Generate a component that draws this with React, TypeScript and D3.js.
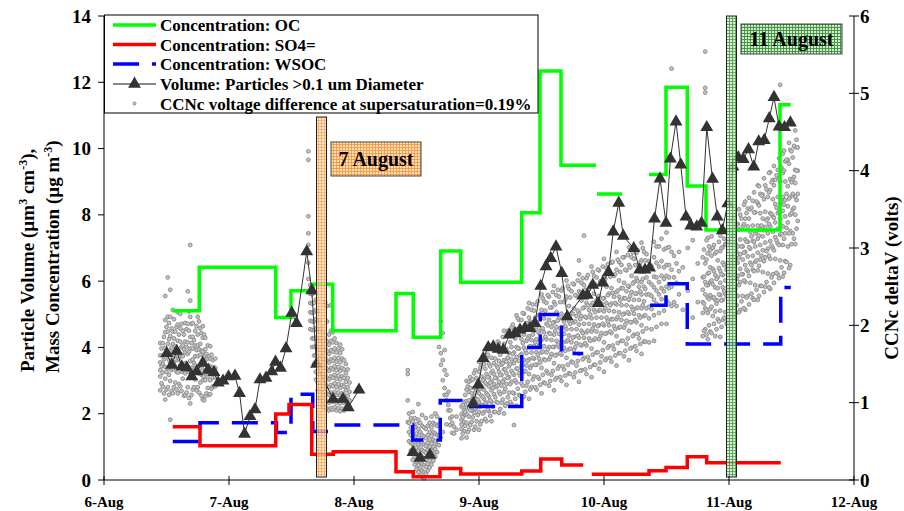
import React from "react";
import * as d3 from "d3";

// ---------- DATA ----------
// Step series: value[i] holds from time[i] to time[i+1]; null = no data
const ocTimes = [6.55, 6.762, 7.374, 7.496, 7.67, 7.83, 8.336, 8.474, 8.694, 8.854, 9.342, 9.488, 9.656, 9.936, 9.944, 10.144, 10.36, 10.496, 10.666, 10.816, 11.408, 11.494];
const ocValues: (number | null)[] = [5.11, 6.42, 4.9, 5.71, 5.91, 4.5, 5.63, 4.31, 6.91, 5.97, 8.06, 12.34, 9.5, null, 8.63, null, 9.22, 11.85, 8.87, 7.54, 11.32];

const so4Times = [6.55, 6.768, 7.374, 7.48, 7.662, 7.834, 8.336, 8.474, 8.688, 8.854, 9.342, 9.494, 9.662, 9.834, 9.902, 10.36, 10.496, 10.666, 10.822, 11.414];
const so4Values: (number | null)[] = [1.61, 1.03, 1.99, 2.28, 0.78, 0.85, 0.25, 0.1, 0.35, 0.18, 0.27, 0.63, 0.45, null, 0.17, 0.28, 0.38, 0.7, 0.52];

const wsocTimes = [6.55, 6.768, 7.38, 7.496, 7.67, 7.834, 8.47, 8.69, 8.854, 9.342, 9.49, 9.66, 9.834, 10.368, 10.496, 10.666, 11.414, 11.494];
const wsocValues: (number | null)[] = [1.16, 1.73, 1.43, 2.59, 1.46, 1.66, 1.21, 2.4, 2.22, 4.0, 4.99, 3.82, null, 5.27, 5.92, 4.1, 5.81];

// Volume (>0.1 um) — null marks a break in the line
const volDays: number[] = [
  6.502, 6.542, 6.582, 6.622, 6.662, 6.702, 6.742, 6.79, 6.834, 6.88, 6.914, 6.952, 6.996, 7.048, 7.084, 7.124, 7.168, 7.208, 7.248, 7.296, 7.342, 7.372, 7.412, 7.456, 7.502, 7.54, 7.622, 7.662, 7.7, 7.832, 7.912, 7.954, 8.04,
  8.2,
  8.472, 8.528, 8.608,
  8.8,
  8.954, 8.994, 9.034, 9.074, 9.114, 9.154, 9.194, 9.242, 9.288, 9.328, 9.368, 9.408, 9.448, 9.494, 9.536, 9.574, 9.616, 9.662, 9.706, 9.83, 9.866, 9.91, 9.954, 9.99, 10.036, 10.074, 10.118, 10.154, 10.238, 10.285, 10.328, 10.365, 10.404, 10.448, 10.496, 10.531, 10.576, 10.614, 10.656, 10.694, 10.742, 10.78, 10.822, 10.868, 10.906, 10.946, 10.99, 11.032, 11.074, 11.114, 11.156, 11.198, 11.238, 11.282, 11.322, 11.36, 11.4, 11.444, 11.491,
];
const volValues: (number | null)[] = [
  3.82, 3.47, 3.89, 3.42, 3.39, 3.12, 3.27, 3.53, 3.32, 3.25, 2.93, 2.99, 3.12, 3.14, 2.62, 1.39, 1.92, 2.13, 3.03, 3.08, 3.27, 3.56, 3.38, 3.97, 5.04, 4.73, 6.89, 5.72, 3.5, 2.44, 2.44, 2.19, 2.72,
  null,
  0.84, 0.66, 0.75,
  null,
  2.31, 2.87, 3.67, 4.0, 4.02, 3.95, 3.92, 4.38, 4.43, 4.53, 4.58, 4.58, 4.73, 5.85, 6.44, 6.69, 7.04, 6.24, 4.93, 5.56, 5.58, 5.88, 5.33, 5.95, 6.27, 7.49, 8.36, 7.36, 6.99, 6.34, 6.34, 6.4, 7.88, 9.09, 7.75, 9.69, 10.81, 9.51, 7.94, 7.67, 7.64, 7.75, 10.64, 9.08, 7.94, 7.53, 8.34, 9.45, 9.73, 9.68, 9.97, 9.45, 10.21, 10.25, 10.91, 11.55, 10.66, 10.64, 10.78,
];

// CCNc deltaV (volts): each row = [day, volts, volts, ...]
const ccnEarly: number[][] = [
  [6.45, 1.16, 1.34, 1.42, 1.52, 1.61, 1.77],
  [6.46, 1.25, 1.47, 1.7],
  [6.47, 1.21, 1.39, 1.5, 1.61, 1.77],
  [6.48, 1.12, 1.56, 1.85],
  [6.49, 1.04, 1.31, 1.46, 1.59, 1.71, 1.91, 2.07, 2.38],
  [6.5, 1.17, 1.4, 1.66, 1.98],
  [6.51, 1.2, 1.45, 1.61, 1.76, 1.92, 2.11, 2.62],
  [6.52, 1.1, 1.36, 1.55, 1.82, 2.03],
  [6.53, 0.78, 1.28, 1.51, 1.67, 1.86, 2.11, 2.46],
  [6.54, 1.15, 1.42, 1.71, 1.96],
  [6.55, 1.12, 1.44, 1.59, 1.76, 1.92, 2.2],
  [6.56, 1.2, 1.52, 1.83, 2.08],
  [6.57, 1.26, 1.47, 1.6, 1.73, 1.92],
  [6.58, 1.17, 1.4, 1.66, 1.98],
  [6.59, 1.12, 1.39, 1.55, 1.68, 1.8, 2.01, 2.17],
  [6.6, 1.24, 1.57, 1.88],
  [6.61, 1.21, 1.48, 1.63, 1.79, 1.96, 2.15],
  [6.62, 1.15, 1.4, 1.72, 2.02],
  [6.63, 1.31, 1.48, 1.6, 1.74, 1.93],
  [6.64, 1.09, 1.44, 1.69, 1.88],
  [6.65, 1.1, 1.38, 1.51, 1.65, 1.79, 2.03],
  [6.66, 1.13, 1.45, 1.72, 1.95],
  [6.67, 1.2, 1.46, 1.63, 1.78, 2.02, 2.44],
  [6.68, 1.06, 1.4, 1.66, 1.93, 2.18],
  [6.69, 0.99, 1.33, 1.54, 1.7, 1.85, 2.11, 2.32, 3.04],
  [6.7, 1.1, 1.45, 1.77, 2.02],
  [6.71, 1.17, 1.41, 1.56, 1.7, 1.85, 2.03],
  [6.72, 1.2, 1.51, 1.81],
  [6.73, 1.3, 1.48, 1.6, 1.74, 1.93],
  [6.74, 1.16, 1.42, 1.68, 1.99],
  [6.75, 1.2, 1.47, 1.6, 1.74, 1.88, 2.11],
  [6.76, 1.13, 1.38, 1.69, 2.05],
  [6.77, 1.26, 1.48, 1.62, 1.76, 1.96],
  [6.78, 1.09, 1.36, 1.67, 1.9],
  [6.79, 1.04, 1.29, 1.43, 1.55, 1.66, 1.84, 1.99],
  [6.8, 1.03, 1.34, 1.6, 1.88],
  [6.81, 1.08, 1.29, 1.42, 1.55, 1.69, 1.84],
  [6.82, 1.12, 1.37, 1.63],
  [6.83, 1.19, 1.34, 1.45, 1.57, 1.74],
  [6.84, 1.1, 1.4, 1.6],
  [6.85, 1.11, 1.29, 1.38, 1.47, 1.57, 1.73],
  [6.86, 1.18, 1.42, 1.62],
  [6.87, 1.21, 1.32, 1.39, 1.45, 1.55],
  [6.89, 1.21, 1.33, 1.45, 1.57],
];
const ccnAug7: number[][] = [
  [7.635, 2.6, 2.81, 3.04, 3.19, 3.41, 4.14, 4.25],
  [7.65, 1.95, 2.06, 2.17, 2.29, 2.41, 2.52],
  [7.665, 1.72, 1.83, 1.94, 2.05, 2.16, 2.28, 2.4, 2.5],
  [7.68, 1.5, 1.61, 1.72, 1.83, 1.94, 2.05, 2.17, 2.29, 2.42],
  [7.695, 1.3, 1.4, 1.51, 1.62, 1.73, 1.84, 1.96, 2.08, 2.2, 2.33],
  [7.71, 1.16, 1.26, 1.37, 1.48, 1.59, 1.7, 1.81, 1.93, 2.05, 2.18],
  [7.725, 1.05, 1.15, 1.25, 1.36, 1.47, 1.58, 1.69, 1.81, 1.93, 2.06],
  [7.74, 0.97, 1.07, 1.17, 1.28, 1.38, 1.49, 1.6, 1.72, 1.84, 1.97],
  [7.755, 0.93, 1.02, 1.12, 1.22, 1.33, 1.44, 1.55, 1.66, 1.78, 1.9],
  [7.77, 0.95, 1.05, 1.15, 1.25, 1.36, 1.47, 1.58, 1.7, 1.82, 2.3],
  [7.785, 0.92, 1.01, 1.11, 1.21, 1.32, 1.43, 1.54, 1.66, 1.79, 2.05, 2.25],
  [7.8, 0.9, 1.0, 1.1, 1.2, 1.3, 1.41, 1.52, 1.63, 1.75, 1.88],
  [7.815, 0.93, 1.03, 1.13, 1.23, 1.34, 1.45, 1.56, 1.68, 1.8, 1.93, 2.26],
  [7.83, 0.91, 1.01, 1.11, 1.21, 1.32, 1.43, 1.54, 1.66, 1.78, 1.91],
  [7.845, 0.94, 1.04, 1.14, 1.25, 1.36, 1.47, 1.58, 1.7, 1.83],
  [7.86, 0.9, 1.0, 1.1, 1.2, 1.31, 1.42, 1.53, 1.65, 1.77],
  [7.875, 0.93, 1.03, 1.13, 1.24, 1.35, 1.46, 1.58, 1.7],
  [7.89, 0.89, 0.99, 1.09, 1.19, 1.3, 1.41, 1.52, 1.64, 1.75],
  [7.905, 0.92, 1.02, 1.12, 1.23, 1.34, 1.45, 1.57, 1.69],
  [7.92, 0.9, 1.0, 1.1, 1.21, 1.32, 1.43, 1.55],
  [7.935, 0.94, 1.05, 1.16, 1.27, 1.38, 1.5],
  [7.95, 0.98, 1.09, 1.2, 1.32, 1.43],
  [7.965, 1.03, 1.14, 1.26],
];
const ccnAug8: number[][] = [
  [8.43, 0.75, 1.03, 1.37, 1.42],
  [8.44, 0.5, 0.62, 0.74, 0.86],
  [8.455, 0.38, 0.48, 0.58, 0.68, 0.8],
  [8.47, 0.26, 0.36, 0.46, 0.55, 0.64, 0.76, 0.88],
  [8.485, 0.2, 0.3, 0.4, 0.49, 0.58, 0.68, 0.8],
  [8.5, 0.14, 0.24, 0.33, 0.42, 0.51, 0.6, 0.72],
  [8.515, 0.1, 0.19, 0.28, 0.37, 0.46, 0.55, 0.66, 0.78, 0.98],
  [8.53, 0.06, 0.15, 0.24, 0.33, 0.42, 0.51, 0.62, 0.74],
  [8.545, 0.04, 0.12, 0.21, 0.3, 0.39, 0.48, 0.58, 0.7, 0.84],
  [8.56, 0.02, 0.1, 0.19, 0.28, 0.37, 0.46, 0.56, 0.68],
  [8.575, 0.08, 0.17, 0.26, 0.35, 0.44, 0.54, 0.66, 0.8],
  [8.59, 0.12, 0.21, 0.3, 0.39, 0.48, 0.58, 0.7],
  [8.605, 0.16, 0.25, 0.34, 0.43, 0.52, 0.62, 0.74],
  [8.62, 0.2, 0.29, 0.38, 0.47, 0.57, 0.68, 0.82],
  [8.635, 0.25, 0.34, 0.43, 0.52, 0.62, 0.74],
  [8.65, 0.3, 0.4, 0.5, 0.6, 0.72, 0.86],
  [8.665, 0.36, 0.46, 0.58, 0.7, 0.82],
  [8.68, 0.45, 0.58, 0.72, 1.72],
  [8.695, 0.55, 1.49, 1.64, 2.05],
  [8.71, 0.62, 1.29, 1.55, 1.9],
  [8.725, 1.1, 1.19, 1.42, 1.68],
  [8.74, 0.72, 1.03, 1.1, 1.36],
  [8.755, 0.9, 0.97, 1.14],
  [8.77, 0.71, 0.8, 0.9],
  [8.785, 0.61, 0.74, 0.82],
  [8.8, 0.6, 0.69],
  [8.82, 0.65, 0.82],
];
const ccnRise: number[][] = [
  [8.86, 0.54, 0.66, 0.72, 0.78, 0.85, 0.95],
  [8.88, 0.63, 0.75, 0.83, 0.9, 1.01],
  [8.9, 0.55, 0.74, 0.85, 0.94, 1.02, 1.17, 1.28],
  [8.92, 0.65, 0.82, 0.93, 1.03, 1.14, 1.27],
  [8.94, 0.75, 0.9, 1.0, 1.12, 1.29],
  [8.96, 0.65, 0.87, 0.97, 1.08, 1.19, 1.38],
  [8.98, 0.76, 0.94, 1.05, 1.16, 1.32],
  [9.0, 0.65, 0.88, 1.01, 1.12, 1.22, 1.4, 1.53],
  [9.02, 0.76, 0.97, 1.09, 1.21, 1.34, 1.49],
  [9.04, 0.88, 1.05, 1.17, 1.31, 1.5],
  [9.06, 0.76, 1.0, 1.12, 1.24, 1.37, 1.58],
  [9.08, 0.89, 1.08, 1.21, 1.33, 1.5],
  [9.1, 0.76, 1.01, 1.16, 1.28, 1.39, 1.58, 1.73],
  [9.12, 0.88, 1.11, 1.24, 1.37, 1.51, 1.68],
  [9.14, 1.01, 1.2, 1.32, 1.48, 1.68],
  [9.16, 0.87, 1.14, 1.27, 1.4, 1.54, 1.77],
  [9.18, 1.0, 1.22, 1.36, 1.49, 1.68],
  [9.2, 0.86, 1.14, 1.3, 1.43, 1.55, 1.76, 1.93],
  [9.22, 0.99, 1.24, 1.38, 1.53, 1.69, 1.87],
  [9.24, 1.13, 1.33, 1.47, 1.64, 1.87],
  [9.26, 0.98, 1.27, 1.41, 1.56, 1.72, 1.97],
  [9.28, 0.71, 1.12, 1.36, 1.51, 1.65, 1.87],
  [9.3, 0.96, 1.26, 1.44, 1.59, 1.72, 1.95, 2.13],
  [9.32, 1.1, 1.38, 1.54, 1.7, 1.87, 2.07],
  [9.34, 1.25, 1.48, 1.63, 1.82, 2.07],
  [9.36, 1.08, 1.4, 1.55, 1.71, 1.88, 2.15],
  [9.38, 1.22, 1.48, 1.64, 1.8, 2.03],
  [9.4, 1.05, 1.37, 1.56, 1.72, 1.86, 2.1, 2.29],
  [9.42, 1.2, 1.48, 1.65, 1.81, 1.99, 2.2],
  [9.44, 1.34, 1.57, 1.73, 1.93, 2.19],
  [9.46, 1.17, 1.49, 1.65, 1.82, 1.98, 2.27],
  [9.48, 1.31, 1.57, 1.74, 1.9, 2.13],
  [9.5, 1.12, 1.45, 1.65, 1.81, 1.95, 2.2, 2.4],
  [9.52, 1.26, 1.56, 1.73, 1.91, 2.09, 2.31],
  [9.54, 1.41, 1.65, 1.82, 2.02, 2.29],
  [9.56, 1.22, 1.56, 1.72, 1.9, 2.07, 2.37],
  [9.58, 1.36, 1.63, 1.81, 1.98, 2.23],
  [9.6, 1.16, 1.51, 1.72, 1.88, 2.04, 2.3, 2.51],
  [9.62, 1.32, 1.62, 1.8, 1.98, 2.17, 2.39],
  [9.64, 1.47, 1.72, 1.89, 2.09, 2.37],
  [9.66, 1.28, 1.62, 1.79, 1.97, 2.15, 2.45],
  [9.68, 1.43, 1.71, 1.89, 2.05, 2.3],
  [9.7, 1.23, 1.58, 1.79, 1.95, 2.11, 2.37, 2.58],
  [9.72, 1.38, 1.69, 1.87, 2.05, 2.25, 2.47],
  [9.74, 1.53, 1.78, 1.95, 2.16, 2.44],
  [9.76, 1.33, 1.68, 1.85, 2.04, 2.22, 2.53],
  [9.78, 1.48, 1.77, 1.95, 2.12, 2.38],
  [9.8, 1.27, 1.63, 1.84, 2.01, 2.17, 2.44, 2.66, 2.84],
  [9.82, 1.42, 1.74, 1.93, 2.12, 2.32, 2.55],
  [9.84, 1.58, 1.84, 2.02, 2.23, 2.52, 3.16],
  [9.86, 1.37, 1.74, 1.91, 2.1, 2.29, 2.61],
  [9.88, 1.54, 1.83, 2.02, 2.2, 2.46],
  [9.9, 1.33, 1.7, 1.92, 2.09, 2.26, 2.54, 2.76],
  [9.92, 1.49, 1.81, 2.01, 2.2, 2.41, 2.64],
  [9.94, 1.65, 1.92, 2.1, 2.32, 2.62],
  [9.96, 1.44, 1.82, 2.0, 2.19, 2.38, 2.71],
  [9.98, 1.6, 1.9, 2.1, 2.28, 2.55],
  [10.0, 1.4, 1.78, 2.0, 2.18, 2.35, 2.63, 2.86],
  [10.02, 1.57, 1.9, 2.1, 2.29, 2.5, 2.74],
  [10.04, 1.73, 2.0, 2.19, 2.41, 2.71],
  [10.06, 1.53, 1.9, 2.08, 2.28, 2.48, 2.81],
  [10.08, 1.69, 1.99, 2.18, 2.37, 2.64],
  [10.1, 1.48, 1.86, 2.08, 2.27, 2.43, 2.72, 2.95],
  [10.12, 1.64, 1.97, 2.17, 2.37, 2.58, 2.82],
  [10.14, 1.8, 2.07, 2.26, 2.48, 2.78],
  [10.16, 1.6, 1.97, 2.15, 2.35, 2.55, 2.88],
  [10.18, 1.76, 2.06, 2.26, 2.44, 2.71],
  [10.2, 1.55, 1.93, 2.15, 2.33, 2.5, 2.78, 3.01],
  [10.22, 1.71, 2.04, 2.24, 2.43, 2.64, 2.88],
  [10.24, 1.88, 2.15, 2.33, 2.56, 2.86],
  [10.26, 1.67, 2.04, 2.22, 2.41, 2.61, 2.94],
  [10.28, 1.83, 2.13, 2.33, 2.5, 2.78],
  [10.3, 1.63, 2.0, 2.22, 2.4, 2.56, 2.84, 3.07],
  [10.32, 1.79, 2.12, 2.31, 2.5, 2.71, 2.95],
  [10.34, 1.96, 2.22, 2.4, 2.62, 2.92],
];
const ccnRiseB: number[][] = [
  [8.87, 0.6, 0.81, 0.97], [8.89, 0.7, 0.88, 1.1], [8.91, 0.62, 0.99, 1.21], [8.93, 0.71, 0.9, 1.19, 1.33],
  [8.95, 0.81, 1.06, 1.3], [8.97, 0.69, 0.92, 1.13, 1.42], [8.99, 0.84, 1.04, 1.27], [9.01, 0.72, 0.95, 1.18, 1.45],
  [9.03, 0.86, 1.07, 1.29, 1.56], [9.05, 0.79, 0.99, 1.26, 1.44], [9.07, 0.91, 1.1, 1.33, 1.62], [9.09, 0.83, 1.03, 1.26, 1.47],
  [9.11, 0.95, 1.19, 1.41, 1.7], [9.13, 0.88, 1.07, 1.32, 1.57], [9.15, 1.0, 1.22, 1.45, 1.79], [9.17, 0.92, 1.11, 1.36, 1.62],
  [9.19, 1.04, 1.27, 1.51, 1.85], [9.21, 0.96, 1.18, 1.43, 1.7], [9.23, 1.07, 1.32, 1.58, 1.93], [9.25, 1.01, 1.24, 1.5, 1.78],
  [9.27, 1.13, 1.38, 1.63, 2.01], [9.29, 1.05, 1.29, 1.55, 1.83], [9.31, 1.18, 1.44, 1.7, 2.09], [9.33, 1.09, 1.35, 1.61, 1.92],
  [9.35, 1.22, 1.49, 1.77, 2.16], [9.37, 1.14, 1.41, 1.68, 1.99], [9.39, 1.27, 1.54, 1.83, 2.22], [9.41, 1.17, 1.45, 1.73, 2.05],
  [9.43, 1.3, 1.58, 1.88, 2.27], [9.45, 1.2, 1.49, 1.78, 2.1], [9.47, 1.33, 1.62, 1.92, 2.31], [9.49, 1.23, 1.52, 1.81, 2.14],
  [9.51, 1.36, 1.66, 1.96, 2.35], [9.53, 1.25, 1.55, 1.85, 2.19], [9.55, 1.38, 1.69, 2.0, 2.39], [9.57, 1.28, 1.59, 1.89, 2.23],
  [9.59, 1.41, 1.72, 2.03, 2.43], [9.61, 1.3, 1.61, 1.93, 2.27], [9.63, 1.44, 1.75, 2.06, 2.46], [9.65, 1.33, 1.64, 1.96, 2.3],
  [9.67, 1.47, 1.78, 2.09, 2.48], [9.69, 1.35, 1.67, 1.99, 2.33], [9.71, 1.49, 1.81, 2.12, 2.51], [9.73, 1.37, 1.7, 2.02, 2.36],
  [9.75, 1.52, 1.84, 2.15, 2.54], [9.77, 1.39, 1.72, 2.05, 2.39], [9.79, 1.54, 1.87, 2.19, 2.58], [9.81, 1.41, 1.75, 2.08, 2.42],
  [9.83, 1.56, 1.9, 2.22, 2.61], [9.85, 1.43, 1.77, 2.11, 2.46], [9.87, 1.59, 1.93, 2.26, 2.65], [9.89, 1.46, 1.8, 2.14, 2.5],
  [9.91, 1.62, 1.96, 2.29, 2.69], [9.93, 1.49, 1.83, 2.17, 2.53], [9.95, 1.65, 1.99, 2.32, 2.72], [9.97, 1.52, 1.86, 2.2, 2.57],
  [9.99, 1.68, 2.02, 2.35, 2.76], [10.01, 1.55, 1.89, 2.23, 2.6], [10.03, 1.71, 2.05, 2.39, 2.79], [10.05, 1.58, 1.92, 2.26, 2.63],
  [10.07, 1.74, 2.08, 2.42, 2.82], [10.09, 1.61, 1.95, 2.29, 2.66], [10.11, 1.77, 2.11, 2.45, 2.85], [10.13, 1.64, 1.98, 2.32, 2.69],
  [10.15, 1.8, 2.14, 2.48, 2.88], [10.17, 1.67, 2.01, 2.35, 2.72], [10.19, 1.83, 2.17, 2.51, 2.91], [10.21, 1.7, 2.04, 2.38, 2.75],
  [10.23, 1.86, 2.2, 2.54, 2.94], [10.25, 1.73, 2.07, 2.41, 2.78], [10.27, 1.89, 2.23, 2.57, 2.97], [10.29, 1.76, 2.1, 2.44, 2.81],
  [10.31, 1.92, 2.26, 2.6, 3.0], [10.33, 1.79, 2.13, 2.47, 2.84],
];
const ccnLate: number[][] = [
  [10.36, 1.78, 2.09, 2.24, 2.4, 2.56, 2.83],
  [10.38, 1.95, 2.21, 2.38, 2.53, 2.77],
  [10.4, 1.8, 2.13, 2.33, 2.49, 2.63, 2.88, 3.08],
  [10.42, 1.98, 2.28, 2.45, 2.62, 2.81, 3.02],
  [10.44, 2.16, 2.4, 2.56, 2.76, 3.02],
  [10.46, 2.02, 2.34, 2.48, 2.64, 2.83, 3.12],
  [10.48, 2.19, 2.44, 2.6, 2.75, 2.98],
  [10.5, 2.02, 2.32, 2.5, 2.64, 2.78, 3.0, 3.2],
  [10.52, 2.28, 2.48, 2.62, 2.78, 3.01],
  [10.54, 2.25, 2.5, 2.72, 2.95, 5.32],
  [10.56, 2.3, 2.62, 2.9],
  [10.58, 2.25, 2.55, 2.8],
  [10.6, 2.4, 2.7, 2.95],
  [10.63, 2.2, 2.75],
  [10.67, 2.45, 3.0],
  [10.71, 2.1, 2.6, 3.1],
  [10.75, 2.3, 2.8],
  [10.79, 1.86, 2.16, 2.3, 2.46, 2.62, 2.88],
  [10.81, 1.95, 2.22, 2.4, 2.56, 2.8, 5.01, 5.07, 5.54],
  [10.83, 1.82, 2.16, 2.36, 2.52, 2.67, 2.93, 3.13],
  [10.85, 1.92, 2.21, 2.39, 2.56, 2.75, 2.97],
  [10.87, 2.12, 2.36, 2.53, 2.73, 3.0],
  [10.89, 1.86, 2.18, 2.33, 2.49, 2.65, 2.93],
  [10.91, 2.08, 2.32, 2.48, 2.62, 2.84],
  [10.93, 1.85, 2.19, 2.39, 2.55, 2.7, 2.96, 3.16],
  [10.95, 2.07, 2.33, 2.49, 2.65, 2.81, 3.01],
  [10.97, 2.17, 2.41, 2.58, 2.78, 3.05],
  [10.99, 2.06, 2.36, 2.5, 2.66, 2.82, 3.08],
  [11.01, 2.2, 2.47, 2.65, 2.81, 3.05],
  [11.03, 2.03, 2.37, 2.58, 2.74, 2.89, 3.15, 3.36],
  [11.05, 2.15, 2.47, 2.66, 2.85, 3.06, 3.29],
  [11.07, 2.38, 2.64, 2.81, 3.02, 3.31],
  [11.09, 2.2, 2.56, 2.73, 2.92, 3.11, 3.43],
  [11.11, 2.38, 2.66, 2.85, 3.02, 3.28],
  [11.13, 2.2, 2.56, 2.78, 2.95, 3.11, 3.38, 3.6],
  [11.15, 2.38, 2.7, 2.89, 3.08, 3.28, 3.51],
  [11.17, 2.55, 2.81, 2.99, 3.21, 3.5],
  [11.19, 2.35, 2.72, 2.9, 3.09, 3.29, 3.61],
  [11.21, 2.52, 2.82, 3.02, 3.19, 3.46],
  [11.23, 2.33, 2.71, 2.94, 3.12, 3.29, 3.58, 3.81],
  [11.25, 2.51, 2.85, 3.04, 3.24, 3.45, 3.7],
  [11.27, 2.69, 2.97, 3.15, 3.38, 3.69],
  [11.29, 2.5, 2.88, 3.07, 3.27, 3.47, 3.81],
  [11.31, 2.67, 2.99, 3.19, 3.38, 3.66],
  [11.33, 2.47, 2.86, 3.09, 3.28, 3.45, 3.75, 3.98],
  [11.35, 2.66, 3.0, 3.21, 3.41, 3.63, 3.88],
  [11.37, 2.86, 3.14, 3.33, 3.57, 3.88],
  [11.39, 2.66, 3.06, 3.25, 3.45, 3.66, 4.01],
  [11.41, 2.84, 3.17, 3.38, 3.57, 3.86, 5.11],
  [11.43, 2.63, 3.04, 3.28, 3.48, 3.66, 3.97, 4.22],
  [11.45, 2.83, 3.19, 3.41, 3.62, 3.86, 4.12],
  [11.47, 3.02, 3.33, 3.54, 3.8, 4.14],
  [11.49, 2.78, 3.22, 3.43, 3.66, 3.89, 4.27],
  [11.51, 3.19, 3.5, 3.7, 3.89, 4.17],
  [11.53, 3.05, 3.43, 3.66, 3.84, 4.01, 4.3, 4.52],
  [11.55, 3.35, 3.7, 4.0, 4.3],
];
const ccnLateB: number[][] = [
  [10.8, 1.93, 2.28, 2.63, 2.98], [10.82, 1.88, 2.2, 2.52, 2.85, 3.1], [10.84, 2.0, 2.34, 2.68, 3.02], [10.86, 1.9, 2.24, 2.58, 2.9, 3.15],
  [10.88, 2.02, 2.36, 2.7, 3.04], [10.9, 1.95, 2.28, 2.6, 2.95], [10.92, 2.05, 2.4, 2.74, 3.08], [10.94, 1.98, 2.32, 2.66, 3.0],
  [10.96, 2.1, 2.44, 2.78, 3.12], [10.98, 2.02, 2.38, 2.72, 3.05],
  [11.0, 2.1, 2.42, 2.77, 3.1], [11.02, 2.23, 2.55, 2.88, 3.22], [11.04, 2.12, 2.46, 2.8, 3.16, 3.42], [11.06, 2.26, 2.6, 2.95, 3.3],
  [11.08, 2.17, 2.52, 2.88, 3.24, 3.5], [11.1, 2.31, 2.66, 3.02, 3.38], [11.12, 2.22, 2.58, 2.94, 3.31, 3.56], [11.14, 2.36, 2.72, 3.08, 3.45],
  [11.16, 2.27, 2.64, 3.01, 3.38, 3.65], [11.18, 2.41, 2.78, 3.15, 3.52], [11.2, 2.33, 2.7, 3.08, 3.46, 3.72], [11.22, 2.46, 2.84, 3.22, 3.6],
  [11.24, 2.38, 2.77, 3.16, 3.55, 3.8], [11.26, 2.51, 2.9, 3.29, 3.68], [11.28, 2.43, 2.83, 3.23, 3.63, 3.9], [11.3, 2.56, 2.96, 3.36, 3.76],
  [11.32, 2.49, 2.9, 3.31, 3.72, 3.97], [11.34, 2.62, 3.03, 3.44, 3.85], [11.36, 2.55, 2.97, 3.39, 3.81, 4.06], [11.38, 2.68, 3.1, 3.52, 3.94],
  [11.4, 2.61, 3.04, 3.47, 3.9, 4.16], [11.42, 2.75, 3.18, 3.61, 4.04], [11.44, 2.68, 3.12, 3.56, 4.0, 4.26], [11.46, 2.82, 3.26, 3.7, 4.14],
  [11.48, 2.74, 3.19, 3.64, 4.09, 4.36], [11.5, 3.05, 3.45, 3.85, 4.25], [11.52, 3.12, 3.52, 3.92, 4.32], [11.54, 3.25, 3.62, 4.0, 4.4],
];

const xTickDays = [6, 7, 8, 9, 10, 11, 12];
const xTickLabels = ["6-Aug", "7-Aug", "8-Aug", "9-Aug", "10-Aug", "11-Aug", "12-Aug"];
const leftTicks = [0, 2, 4, 6, 8, 10, 12, 14];
const rightTicks = [0, 1, 2, 3, 4, 5, 6];

const legendLabels = [
  "Concentration: OC",
  "Concentration: SO4=",
  "Concentration: WSOC",
  "Volume: Particles >0.1 um Diameter",
  "CCNc voltage difference at supersaturation=0.19%",
];

// highlighted periods (day of August)
const aug7Bar = [7.7, 7.78];
const aug11Bar = [10.98, 11.06];

// ---------- COMPONENT ----------
const FONT = "'Liberation Serif', 'Times New Roman', serif";
const X0 = 104, X1 = 854, YB = 480, YT = 16;

export default function App() {
  const x = d3.scaleLinear().domain([6, 12]).range([X0, X1]);
  const yL = d3.scaleLinear().domain([0, 14]).range([YB, YT]);
  const yR = d3.scaleLinear().domain([0, 6]).range([YB, YT]);

  const stepPath = (times: number[], vals: (number | null)[]) => {
    const p = d3.path();
    let prev: number | null = null;
    vals.forEach((v, i) => {
      if (v == null) { prev = null; return; }
      const xa = x(times[i]), xb = x(times[i + 1]), yv = yL(v);
      if (prev == null) p.moveTo(xa, yv); else p.lineTo(xa, yv);
      p.lineTo(xb, yv);
      prev = v;
    });
    return p.toString();
  };

  const volPts = volDays.map((d, i) => [d, volValues[i]] as [number, number | null]);
  const volLine = d3.line<[number, number | null]>()
    .defined((d) => d[1] != null)
    .x((d) => x(d[0]))
    .y((d) => yL(d[1] as number))(volPts) || "";
  const tri = d3.symbol().type(d3.symbolTriangle).size(72)() || "";

  const ccnPts: [number, number][] = [];
  [ccnEarly, ccnAug7, ccnAug8, ccnRise, ccnRiseB, ccnLate, ccnLateB].forEach((grp) =>
    grp.forEach((row) => row.slice(1).forEach((v) => ccnPts.push([row[0], v])))
  );

  const legendY = [25, 44.5, 64, 84, 103.5];

  return (
    <svg width={904} height={511} style={{ position: "absolute", left: 0, top: 0, background: "#fff" }}
      fontFamily={FONT} fontWeight="bold">
      <defs>
        <pattern id="orangeGrid" width="3" height="3" patternUnits="userSpaceOnUse">
          <rect width="3" height="3" fill="#ffe0b5" />
          <path d="M0,0.5H3M0.5,0V3" stroke="#f09a48" strokeWidth="0.9" />
        </pattern>
        <pattern id="greenGrid" width="3" height="3" patternUnits="userSpaceOnUse">
          <rect width="3" height="3" fill="#cdeecb" />
          <path d="M0,0.5H3M0.5,0V3" stroke="#3f8f3f" strokeWidth="0.9" />
        </pattern>
      </defs>
      <rect width={904} height={511} fill="#fff" />

      {/* CCN scatter */}
      <g>
        {ccnPts.map((d, i) => (
          <circle key={i} cx={x(d[0])} cy={yR(d[1])} r={1.9} fill="#c4c4c4" stroke="#8e8e8e" strokeWidth={1} />
        ))}
      </g>

      {/* step series */}
      <path d={stepPath(wsocTimes, wsocValues)} fill="none" stroke="#0000ff" strokeWidth={3.5} strokeDasharray="26,13" />
      <path d={stepPath(so4Times, so4Values)} fill="none" stroke="#ff0000" strokeWidth={3.5} />
      <path d={stepPath(ocTimes, ocValues)} fill="none" stroke="#00ff00" strokeWidth={3.5} />

      {/* volume */}
      <path d={volLine} fill="none" stroke="#333" strokeWidth={1} />
      {volPts.filter((d) => d[1] != null).map((d, i) => (
        <path key={i} d={tri} transform={`translate(${x(d[0])},${yL(d[1] as number)})`} fill="#333" />
      ))}

      {/* highlighted periods */}
      <rect x={x(aug7Bar[0])} y={117} width={x(aug7Bar[1]) - x(aug7Bar[0])} height={YB - 3 - 117}
        fill="url(#orangeGrid)" fillOpacity={0.8} stroke="#222" strokeWidth={1} />
      <rect x={x(aug11Bar[0])} y={YT} width={x(aug11Bar[1]) - x(aug11Bar[0])} height={YB - 3 - YT}
        fill="url(#greenGrid)" fillOpacity={0.85} stroke="#222" strokeWidth={1} />
      <rect x={331} y={142} width={90} height={34} fill="url(#orangeGrid)" stroke="#444" strokeWidth={1} />
      <text x={376} y={166} textAnchor="middle" fontSize={20} fill="#000">7 August</text>
      <rect x={741} y={24} width={101} height={30} fill="url(#greenGrid)" stroke="#444" strokeWidth={1} />
      <text x={791.5} y={46} textAnchor="middle" fontSize={20} fill="#000">11 August</text>

      {/* axes */}
      <line x1={X0} x2={X0} y1={YT} y2={YB} stroke="#000" />
      <line x1={X1} x2={X1} y1={YT} y2={YB} stroke="#000" />
      <line x1={X0} x2={X1} y1={YB} y2={YB} stroke="#000" />
      {leftTicks.map((t) => (
        <g key={"l" + t}>
          <line x1={X0 - 6} x2={X0} y1={yL(t)} y2={yL(t)} stroke="#000" />
          <text x={91} y={yL(t) + 6.5} textAnchor="end" fontSize={19}>{t}</text>
        </g>
      ))}
      {rightTicks.map((t) => (
        <g key={"r" + t}>
          <line x1={X1 - 5} x2={X1 + 5} y1={yR(t)} y2={yR(t)} stroke="#000" />
          <text x={860} y={yR(t) + 6.5} textAnchor="start" fontSize={19}>{t}</text>
        </g>
      ))}
      {xTickDays.map((t, i) => (
        <g key={"x" + t}>
          <line x1={x(t)} x2={x(t)} y1={YB - 4} y2={YB + 5} stroke="#000" />
          <text x={x(t)} y={507} textAnchor="middle" fontSize={15}>{xTickLabels[i]}</text>
        </g>
      ))}

      {/* axis titles */}
      <text transform="translate(34,372) rotate(-90)" fontSize={19}>
        Particle Volume (µm<tspan dy={-7} fontSize={12}>3</tspan><tspan dy={7}> cm</tspan><tspan dy={-7} fontSize={12}>-3</tspan><tspan dy={7}>),</tspan>
      </text>
      <text transform="translate(59,373) rotate(-90)" fontSize={19}>
        Mass Concentration (µg m<tspan dy={-7} fontSize={12}>-3</tspan><tspan dy={7}>)</tspan>
      </text>
      <text transform="translate(898,278) rotate(-90)" fontSize={19} textAnchor="middle">CCNc deltaV (volts)</text>

      {/* legend */}
      <rect x={104.5} y={15} width={433.5} height={98} fill="#fff" stroke="#000" strokeWidth={1} />
      <line x1={113} x2={156} y1={legendY[0]} y2={legendY[0]} stroke="#00ff00" strokeWidth={3.5} />
      <line x1={113} x2={156} y1={legendY[1]} y2={legendY[1]} stroke="#ff0000" strokeWidth={3.5} />
      <line x1={113} x2={156} y1={legendY[2]} y2={legendY[2]} stroke="#0000ff" strokeWidth={3.5} strokeDasharray="26,13" />
      <line x1={113} x2={156} y1={legendY[3]} y2={legendY[3]} stroke="#888" strokeWidth={2} />
      <path d={tri} transform={`translate(134.5,${legendY[3]})`} fill="#333" />
      <circle cx={134.5} cy={legendY[4]} r={1.5} fill="#c4c4c4" stroke="#8e8e8e" strokeWidth={1} />
      {legendLabels.map((l, i) => (
        <text key={l} x={160} y={legendY[i] + 6} fontSize={17}>{l}</text>
      ))}
    </svg>
  );
}
